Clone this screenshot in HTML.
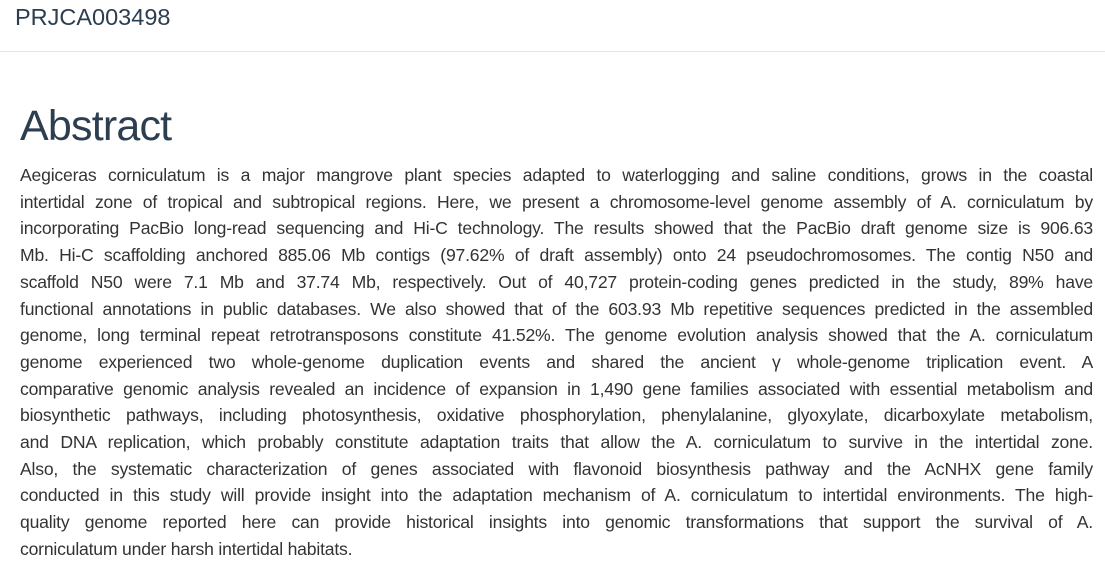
<!DOCTYPE html>
<html><head><meta charset="utf-8"><style>
body{margin:0;width:1105px;height:571px;overflow:hidden;background:#fff;font-family:"Liberation Sans",sans-serif;}
#title{position:absolute;left:15px;top:2px;font-size:23.5px;color:#2c3e50;line-height:30px;}
#rule{position:absolute;left:0;top:51px;width:1105px;height:1px;background:#e5e5e5;}
#abs{position:absolute;left:20px;top:100px;font-size:43px;letter-spacing:-0.8px;color:#2c3e50;line-height:52px;margin:0;font-weight:normal;}
#para{position:absolute;left:20px;top:162px;width:1073px;font-size:17.6px;letter-spacing:-0.2px;line-height:26.7px;color:#333;}
#para div{text-align:justify;text-align-last:justify;white-space:nowrap;}
#para div.last{text-align-last:left;}
</style></head><body>
<div id="title">PRJCA003498</div>
<div id="rule"></div>
<h2 id="abs">Abstract</h2>
<div id="para">
<div>Aegiceras corniculatum is a major mangrove plant species adapted to waterlogging and saline conditions, grows in the coastal</div>
<div>intertidal zone of tropical and subtropical regions. Here, we present a chromosome-level genome assembly of A. corniculatum by</div>
<div>incorporating PacBio long-read sequencing and Hi-C technology. The results showed that the PacBio draft genome size is 906.63</div>
<div>Mb. Hi-C scaffolding anchored 885.06 Mb contigs (97.62% of draft assembly) onto 24 pseudochromosomes. The contig N50 and</div>
<div>scaffold N50 were 7.1 Mb and 37.74 Mb, respectively. Out of 40,727 protein-coding genes predicted in the study, 89% have</div>
<div>functional annotations in public databases. We also showed that of the 603.93 Mb repetitive sequences predicted in the assembled</div>
<div>genome, long terminal repeat retrotransposons constitute 41.52%. The genome evolution analysis showed that the A. corniculatum</div>
<div>genome experienced two whole-genome duplication events and shared the ancient γ whole-genome triplication event. A</div>
<div>comparative genomic analysis revealed an incidence of expansion in 1,490 gene families associated with essential metabolism and</div>
<div>biosynthetic pathways, including photosynthesis, oxidative phosphorylation, phenylalanine, glyoxylate, dicarboxylate metabolism,</div>
<div>and DNA replication, which probably constitute adaptation traits that allow the A. corniculatum to survive in the intertidal zone.</div>
<div>Also, the systematic characterization of genes associated with flavonoid biosynthesis pathway and the AcNHX gene family</div>
<div>conducted in this study will provide insight into the adaptation mechanism of A. corniculatum to intertidal environments. The high-</div>
<div>quality genome reported here can provide historical insights into genomic transformations that support the survival of A.</div>
<div class="last">corniculatum under harsh intertidal habitats.</div>
</div>
</body></html>
